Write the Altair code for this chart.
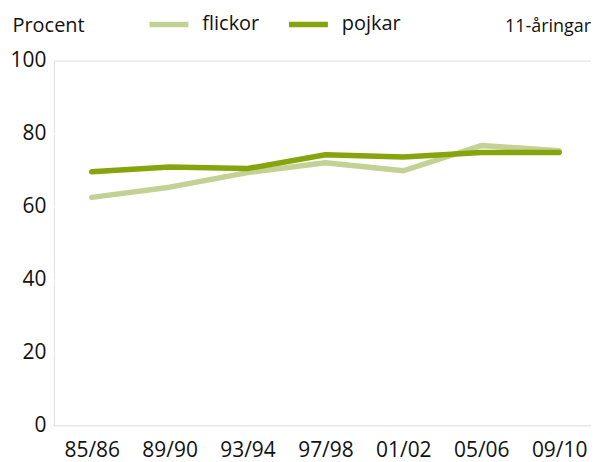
import json
import altair as alt
import pandas as pd

periods = ["85/86", "89/90", "93/94", "97/98", "01/02", "05/06", "09/10"]
flickor = [62.5, 65.3, 69.3, 72.0, 69.8, 76.7, 75.3]
pojkar = [69.5, 70.8, 70.4, 74.2, 73.6, 74.8, 74.8]
series_names = ["flickor", "pojkar"]
series_colors = ["#c3d194", "#86a40c"]
y_ticks = [0, 20, 40, 60, 80, 100]

rows = []
for name, vals in zip(series_names, [flickor, pojkar]):
    for i, (p, v) in enumerate(zip(periods, vals)):
        rows.append({"i": i, "period": p, "serie": name, "value": v})
df = pd.DataFrame(rows)

FONT = "Open Sans"
label_expr = json.dumps(periods) + "[datum.value]"

W, H = 539, 366

lines = alt.Chart(df).mark_line(strokeWidth=5.5, strokeCap="round", strokeJoin="round").encode(
    x=alt.X("i:Q",
            scale=alt.Scale(domain=[-0.486, 6.409], nice=False, zero=False),
            axis=alt.Axis(values=list(range(len(periods))), labelExpr=label_expr,
                          title=None, ticks=False, domain=False, grid=False,
                          labelFontSize=21, labelFont=FONT, labelColor="#111111",
                          labelPadding=14)),
    y=alt.Y("value:Q",
            scale=alt.Scale(domain=[0, 100], nice=False),
            axis=alt.Axis(values=y_ticks, title="Procent", titleAngle=0,
                          titleAlign="left", titleBaseline="alphabetic",
                          titleX=-42, titleY=-29, titleFont=FONT, titleFontSize=20,
                          titleFontWeight="normal", titleColor="#111111",
                          ticks=False, domain=False, labelPadding=8,
                          labelFontSize=21, labelFont=FONT, labelColor="#111111",
                          grid=True, gridColor="#ffffff", gridWidth=2.5,
                          gridOpacity={"condition": {"test": "datum.value == 0 || datum.value == 100", "value": 0}, "value": 1})),
    color=alt.Color("serie:N",
                    scale=alt.Scale(domain=series_names, range=series_colors),
                    legend=alt.Legend(title=None, orient="none", direction="horizontal",
                                      legendX=93, legendY=-59,
                                      symbolType="stroke", symbolSize=1521,
                                      symbolStrokeWidth=5.5, labelFont=FONT,
                                      labelFontSize=20, labelColor="#111111",
                                      labelOffset=11, columnPadding=18)),
    order=alt.Order("i:Q"),
)

note = alt.Chart(pd.DataFrame({"t": ["11-åringar"]})).mark_text(
    align="right", baseline="alphabetic", font=FONT, fontSize=18, color="#111111"
).encode(text="t:N", x=alt.value(539), y=alt.value(-29))

chart = alt.layer(lines, note).properties(
    width=W, height=H,
    autosize=alt.AutoSizeParams(type="none"),
    padding={"left": 46, "top": 52, "right": 0, "bottom": 36},
).configure_view(fill="#f2f4e6", stroke=None).configure(background="#ffffff")

chart.save("out.html", embed_options={"renderer": "svg", "actions": False})
